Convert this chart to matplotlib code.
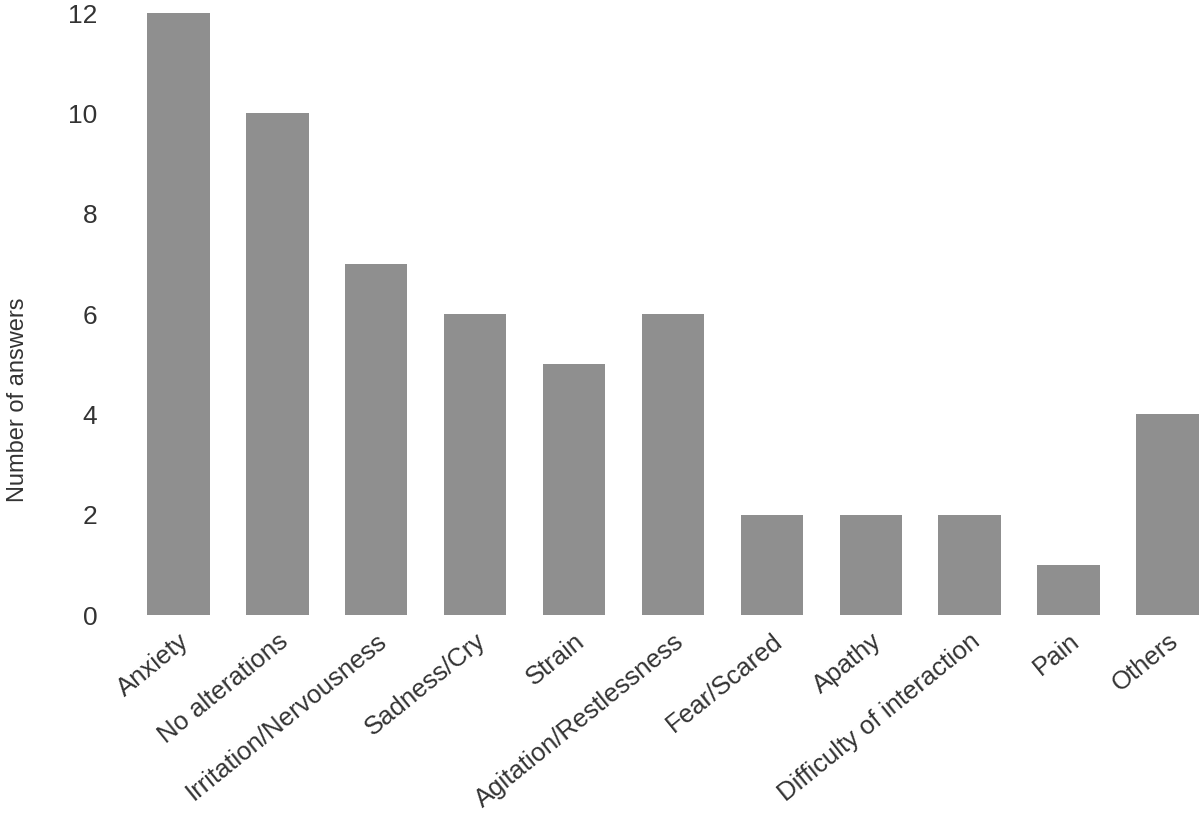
import matplotlib
matplotlib.use("Agg")
import matplotlib.pyplot as plt

categories = ["Anxiety", "No alterations", "Irritation/Nervousness", "Sadness/Cry",
              "Strain", "Agitation/Restlessness", "Fear/Scared", "Apathy",
              "Difficulty of interaction", "Pain", "Others"]
answers = [12, 10, 7, 6, 5, 6, 2, 2, 2, 1, 4]
y_ticks = [0, 2, 4, 6, 8, 10, 12]

plt.rcParams['font.family'] = ['Liberation Sans', 'DejaVu Sans']

fig = plt.figure(figsize=(12, 8.16), dpi=100)
ax = fig.add_axes([0.11, 0.2463, 0.89, 0.7377])

x = range(len(categories))
ax.bar(x, answers, width=0.63, color='#8f8f8f')

ax.set_xlim(-0.47, 10.33)
ax.set_ylim(0, 12)
ax.set_yticks(y_ticks)
ax.set_xticks(list(x))
ax.set_xticklabels(categories, rotation=39, ha='right', rotation_mode='anchor',
                   fontsize=18.5, color='#333333')
ax.tick_params(axis='y', labelsize=19, labelcolor='#333333', length=0, pad=25)
ax.tick_params(axis='x', length=0, pad=10)

for s in ax.spines.values():
    s.set_visible(False)

ax.set_ylabel('Number of answers', fontsize=17, color='#333333')
ax.yaxis.set_label_coords(-0.096, 0.357)

fig.savefig('out.png', dpi=100)
